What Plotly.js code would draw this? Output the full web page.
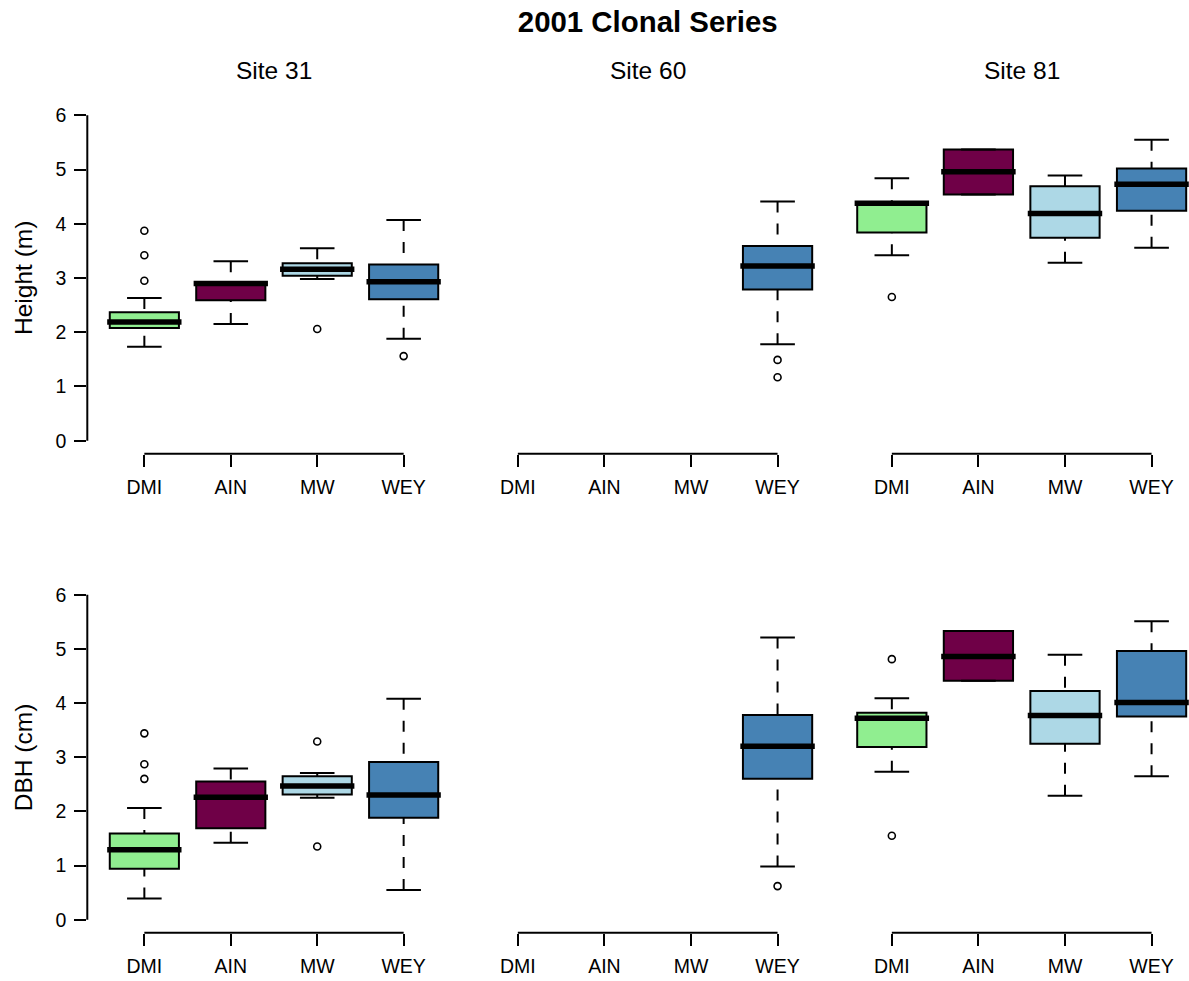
<!DOCTYPE html>
<html><head><meta charset="utf-8">
<script src="https://cdn.plot.ly/plotly-3.0.1.min.js"></script>
<style>html,body{margin:0;padding:0;background:#fff}#chart{width:1189px;height:981px}</style>
</head><body><div id="chart"></div>
<script>
// ---- categories, colours, labels ----
const groups = ['DMI', 'AIN', 'MW', 'WEY'];
const groupColors = ['#90EE90', '#6F0047', '#ADD8E6', '#4682B4'];
const siteNames = ['Site 31', 'Site 60', 'Site 81'];
const yTicks = [0, 1, 2, 3, 4, 5, 6];
const rowTitles = ['Height (m)', 'DBH (cm)'];
const mainTitle = '2001 Clonal Series';

// ---- Height (m) ----
// Site 31
const h31_lo  = [1.73, 2.15, 2.98, 1.88];
const h31_q1  = [2.08, 2.59, 3.04, 2.61];
const h31_med = [2.19, 2.90, 3.16, 2.93];
const h31_q3  = [2.37, 2.92, 3.27, 3.25];
const h31_hi  = [2.63, 3.31, 3.55, 4.07];
const h31_outGroup = ['DMI', 'DMI', 'DMI', 'MW', 'WEY'];
const h31_outVal   = [3.87, 3.42, 2.95, 2.06, 1.56];
// Site 60
const h60_lo  = [null, null, null, 1.78];
const h60_q1  = [null, null, null, 2.79];
const h60_med = [null, null, null, 3.22];
const h60_q3  = [null, null, null, 3.59];
const h60_hi  = [null, null, null, 4.41];
const h60_outGroup = ['WEY', 'WEY'];
const h60_outVal   = [1.49, 1.17];
// Site 81
const h81_lo  = [3.42, 4.54, 3.28, 3.56];
const h81_q1  = [3.84, 4.54, 3.74, 4.24];
const h81_med = [4.38, 4.96, 4.19, 4.73];
const h81_q3  = [4.40, 5.37, 4.69, 5.02];
const h81_hi  = [4.84, 5.37, 4.89, 5.55];
const h81_outGroup = ['DMI'];
const h81_outVal   = [2.65];

// ---- DBH (cm) ----
// Site 31
const d31_lo  = [0.39, 1.42, 2.25, 0.55];
const d31_q1  = [0.94, 1.69, 2.31, 1.88];
const d31_med = [1.29, 2.26, 2.47, 2.30];
const d31_q3  = [1.59, 2.55, 2.65, 2.91];
const d31_hi  = [2.06, 2.79, 2.71, 4.08];
const d31_outGroup = ['DMI', 'DMI', 'DMI', 'MW', 'MW'];
const d31_outVal   = [3.44, 2.87, 2.60, 3.29, 1.35];
// Site 60
const d60_lo  = [null, null, null, 0.98];
const d60_q1  = [null, null, null, 2.60];
const d60_med = [null, null, null, 3.20];
const d60_q3  = [null, null, null, 3.78];
const d60_hi  = [null, null, null, 5.21];
const d60_outGroup = ['WEY'];
const d60_outVal   = [0.62];
// Site 81
const d81_lo  = [2.73, 4.41, 2.29, 2.65];
const d81_q1  = [3.19, 4.41, 3.25, 3.75];
const d81_med = [3.72, 4.86, 3.77, 4.01];
const d81_q3  = [3.82, 5.33, 4.22, 4.96];
const d81_hi  = [4.09, 5.33, 4.89, 5.51];
const d81_outGroup = ['DMI', 'DMI'];
const d81_outVal   = [4.81, 1.55];

// ---- panel table built from the arrays above ----
const panels = [
  {lo: h31_lo, q1: h31_q1, med: h31_med, q3: h31_q3, hi: h31_hi, og: h31_outGroup, ov: h31_outVal},
  {lo: h60_lo, q1: h60_q1, med: h60_med, q3: h60_q3, hi: h60_hi, og: h60_outGroup, ov: h60_outVal},
  {lo: h81_lo, q1: h81_q1, med: h81_med, q3: h81_q3, hi: h81_hi, og: h81_outGroup, ov: h81_outVal},
  {lo: d31_lo, q1: d31_q1, med: d31_med, q3: d31_q3, hi: d31_hi, og: d31_outGroup, ov: d31_outVal},
  {lo: d60_lo, q1: d60_q1, med: d60_med, q3: d60_q3, hi: d60_hi, og: d60_outGroup, ov: d60_outVal},
  {lo: d81_lo, q1: d81_q1, med: d81_med, q3: d81_q3, hi: d81_hi, og: d81_outGroup, ov: d81_outVal}
];

// ---- layout geometry (pixels) ----
const W = 1189, H = 981;
const colPx = [[87.3, 460.7], [460.7, 834.7], [834.7, 1208.7]]; // plot regions
const rowPx = [[102.3, 453.7], [581.7, 932.7]];
const XR = [0.34, 4.66], YR = [-0.24, 6.24];
const FONT = 'Liberation Sans, Arial, sans-serif';
const BOXW = 0.8, CAPW = 0.4, MEDEXT = 0.03;

function pos(i) { return i + 1; }

const traces = [];
const layout = {
  width: W, height: H,
  margin: {l: 0, r: 0, t: 0, b: 0},
  paper_bgcolor: '#fff', plot_bgcolor: 'rgba(0,0,0,0)',
  showlegend: false, boxmode: 'overlay',
  font: {family: FONT, color: '#000'},
  title: {text: mainTitle, xref: 'container', yref: 'container',
          x: 647.7 / W, y: 1 - 21.5 / H, xanchor: 'center', yanchor: 'middle',
          font: {family: FONT, size: 29.4, weight: 'bold', color: '#000'}},
  shapes: [], annotations: []
};

function xDomain(c) {
  const a = colPx[c][0], b = Math.min(colPx[c][1], W);
  return [a / W, b / W];
}
function xRange(c) {
  const pxPerUnit = (colPx[c][1] - colPx[c][0]) / (XR[1] - XR[0]);
  const b = Math.min(colPx[c][1], W);
  return [XR[0], XR[0] + (b - colPx[c][0]) / pxPerUnit];
}
function yDomain(r) { return [1 - rowPx[r][1] / H, 1 - rowPx[r][0] / H]; }
function xPaper(c, v) {
  const pxPerUnit = (colPx[c][1] - colPx[c][0]) / (XR[1] - XR[0]);
  return (colPx[c][0] + (v - XR[0]) * pxPerUnit) / W;
}
function yPaper(r, v) {
  const pxPerUnit = (rowPx[r][1] - rowPx[r][0]) / (YR[1] - YR[0]);
  return 1 - (rowPx[r][1] - (v - YR[0]) * pxPerUnit) / H;
}

panels.forEach((p, k) => {
  const r = Math.floor(k / 3), c = k % 3;
  const n = k + 1;
  const xa = n === 1 ? 'x' : 'x' + n, ya = n === 1 ? 'y' : 'y' + n;
  const xk = n === 1 ? 'xaxis' : 'xaxis' + n, yk = n === 1 ? 'yaxis' : 'yaxis' + n;

  layout[xk] = {
    domain: xDomain(c), range: xRange(c), anchor: ya,
    tickmode: 'array', tickvals: groups.map((g, i) => pos(i)), ticktext: groups,
    ticks: 'outside', ticklen: 12, tickwidth: 2, tickcolor: '#000',
    showline: false, showgrid: false, zeroline: false, automargin: false,
    tickfont: {family: FONT, size: 19.5, color: '#000'}, ticklabelstandoff: 4,
    fixedrange: true
  };
  layout[yk] = {
    domain: yDomain(r), range: YR, anchor: xa,
    visible: c === 0,
    tickmode: 'array', tickvals: yTicks, ticktext: yTicks.map(String),
    ticks: 'outside', ticklen: 12, tickwidth: 2, tickcolor: '#000',
    showline: false, showgrid: false, zeroline: false, automargin: false,
    tickfont: {family: FONT, size: 19.5, color: '#000'}, ticklabelstandoff: 4,
    fixedrange: true
  };

  // axis lines (R style: x from first to last group, y from 0 to 6)
  layout.shapes.push({type: 'line', xref: 'paper', yref: 'paper',
    x0: xPaper(c, pos(0)), x1: xPaper(c, pos(groups.length - 1)),
    y0: yPaper(r, YR[0]), y1: yPaper(r, YR[0]), line: {color: '#000', width: 2}});
  if (c === 0) {
    layout.shapes.push({type: 'line', xref: 'paper', yref: 'paper',
      x0: xPaper(c, XR[0]), x1: xPaper(c, XR[0]),
      y0: yPaper(r, yTicks[0]), y1: yPaper(r, yTicks[yTicks.length - 1]),
      line: {color: '#000', width: 2}});
  }

  const wx = [], wy = [], cx = [], cy = [], mx = [], my = [];
  groups.forEach((g, i) => {
    if (p.med[i] === null) return;
    const x = pos(i);
    traces.push({
      type: 'box', xaxis: xa, yaxis: ya, x: [x],
      q1: [p.q1[i]], median: [p.med[i]], q3: [p.q3[i]],
      lowerfence: [p.q1[i]], upperfence: [p.q3[i]],
      width: BOXW, whiskerwidth: 0, boxpoints: false,
      fillcolor: groupColors[i], line: {color: '#000', width: 2},
      hoverinfo: 'skip', name: g
    });
    // dashed whiskers from the cap to the box
    if (p.hi[i] > p.q3[i]) { wx.push(x, x, null); wy.push(p.hi[i], p.q3[i], null); }
    if (p.lo[i] < p.q1[i]) { wx.push(x, x, null); wy.push(p.lo[i], p.q1[i], null); }
    // caps
    cx.push(x - CAPW / 2, x + CAPW / 2, null, x - CAPW / 2, x + CAPW / 2, null);
    cy.push(p.hi[i], p.hi[i], null, p.lo[i], p.lo[i], null);
    // thick median
    mx.push(x - BOXW / 2 - MEDEXT, x + BOXW / 2 + MEDEXT, null);
    my.push(p.med[i], p.med[i], null);
  });
  traces.push({type: 'scatter', mode: 'lines', xaxis: xa, yaxis: ya, x: wx, y: wy,
    line: {color: '#000', width: 2, dash: '11px,11px'}, hoverinfo: 'skip'});
  traces.push({type: 'scatter', mode: 'lines', xaxis: xa, yaxis: ya, x: cx, y: cy,
    line: {color: '#000', width: 2}, hoverinfo: 'skip'});
  traces.push({type: 'scatter', mode: 'lines', xaxis: xa, yaxis: ya, x: mx, y: my,
    line: {color: '#000', width: 5.5}, hoverinfo: 'skip'});
  traces.push({type: 'scatter', mode: 'markers', xaxis: xa, yaxis: ya,
    x: p.og.map(g => pos(groups.indexOf(g))), y: p.ov,
    marker: {symbol: 'circle-open', size: 7, color: '#000', line: {width: 1.6, color: '#000'}},
    cliponaxis: false, hoverinfo: 'skip'});

  if (r === 0) {
    layout.annotations.push({text: siteNames[c], xref: xa, yref: 'paper',
      x: (XR[0] + XR[1]) / 2, y: 1 - 70.5 / H, xanchor: 'center', yanchor: 'middle',
      showarrow: false, font: {family: FONT, size: 24.5, color: '#000'}});
  }
  if (c === 0) {
    layout.annotations.push({text: rowTitles[r], xref: 'paper', yref: 'paper',
      x: 23 / W, y: (yDomain(r)[0] + yDomain(r)[1]) / 2, xanchor: 'center', yanchor: 'middle',
      textangle: -90, showarrow: false, font: {family: FONT, size: 24.5, color: '#000'}});
  }
});

Plotly.newPlot('chart', traces, layout, {staticPlot: true, displayModeBar: false});
</script>
</body></html>
